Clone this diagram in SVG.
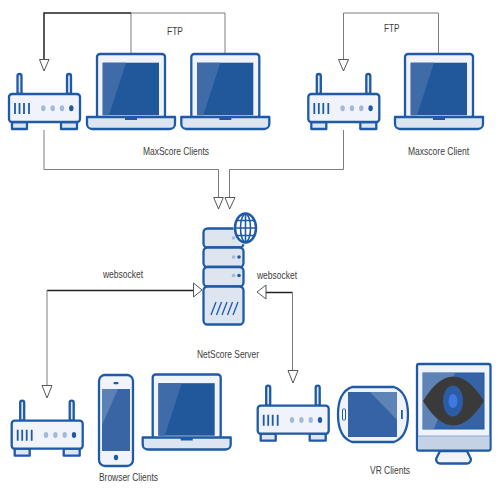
<svg xmlns="http://www.w3.org/2000/svg" width="500" height="500" viewBox="0 0 500 500">
<style>
text{font-family:"Liberation Sans",Arial,sans-serif;font-size:11px;fill:#3c3c3c;text-anchor:start}
.ln{fill:none;stroke:#7d7d7d;stroke-width:1}
.bk{fill:none;stroke:#222;stroke-width:1.500}
.ah{fill:#fff;stroke:#444;stroke-width:.9}
.o{stroke:#1f5aa6;stroke-width:2.300;stroke-linejoin:round}
.pale{fill:#f0f3fa}
.mid{fill:#dde5f1}
.scr{fill:#21579b}
.hi{fill:#3f6ca8}
</style>
<defs>
<g id="router">
<path class="o" d="M8.500 0V-18a2 2 0 0 1 4 0V0ZM58 0V-18a2 2 0 0 1 4 0V0Z" fill="#dde5f1"/>
<rect class="o mid" x="3" y="28" width="15" height="7"/>
<rect class="o mid" x="52" y="28" width="16" height="7"/>
<rect class="o pale" x="0" y="0" width="71" height="28" rx="3"/>
<path d="M6 9V20M10.500 9V20M15 9V20M20 9V20" fill="none" stroke="#1f5aa6" stroke-width="1.800"/>
<g fill="#a3b9da"><ellipse cx="34.300" cy="14.300" rx="2.200" ry="3"/><ellipse cx="43.700" cy="14.300" rx="2.200" ry="3"/><ellipse cx="53" cy="14.300" rx="2.200" ry="3"/></g>
<ellipse cx="62.300" cy="14.300" rx="2.200" ry="3" fill="#1f5aa6"/>
</g>
<g id="laptop">
<rect class="o pale" x="10" y="0" width="68" height="64" rx="3"/>
<rect x="15.700" y="8.700" width="56.300" height="52.500" class="scr"/>
<path class="hi" d="M15.700 8.700H39L22 61.200H15.700Z"/>
<path class="o mid" d="M0 63H88V70a5 5 0 0 1-5 5H5a5 5 0 0 1-5-5Z"/>
<rect x="38" y="63" width="12" height="3" fill="#1f5aa6"/>
</g>
</defs>

<g id="connectors">
<path class="ln" d="M131 13H225V54M131 13V54"/>
<path class="bk" d="M44 59V13H131"/>
<path class="ln" d="M343.500 59V13H438.500V54"/>
<path class="ln" d="M44 130V169.500H218.500V197"/>
<path class="ln" d="M343.500 130V169.500H229.500V197"/>
<path class="bk" d="M193 290.500H47"/>
<path class="ln" d="M47 290V385"/>
<path class="bk" d="M266 292.500H292.500"/>
<path class="ln" d="M292.500 292V370"/>
<path class="ah" d="M39.500 59.500H49L44 71Z"/>
<path class="ah" d="M338.500 59.500H348.500L343.500 71Z"/>
<path class="ah" d="M213.700 197.500H223.300L218.500 209Z"/>
<path class="ah" d="M225 197.500H235L229.700 209Z"/>
<path class="ah" d="M193.500 283V297L202 290Z"/>
<path class="ah" d="M266 285V299L257 292Z"/>
<path class="ah" d="M42 385.500H52L47 398Z"/>
<path class="ah" d="M288 370.500H298L293 383Z"/>
</g>

<g id="router1"><use href="#router" x="9" y="94"/></g>
<g id="laptop1"><use href="#laptop" x="87" y="54"/></g>
<g id="laptop2"><use href="#laptop" x="181.300" y="54"/></g>
<g id="label-ftp1"><text x="167" y="35" textLength="16" lengthAdjust="spacingAndGlyphs">FTP</text></g>
<g id="label-maxscore-clients"><text x="143" y="155" textLength="66" lengthAdjust="spacingAndGlyphs">MaxScore Clients</text></g>

<g id="router2"><use href="#router" x="308.300" y="94"/></g>
<g id="laptop3"><use href="#laptop" x="395" y="54"/></g>
<g id="label-ftp2"><text x="384" y="32" textLength="15.500" lengthAdjust="spacingAndGlyphs">FTP</text></g>
<g id="label-maxscore-client"><text x="408" y="155" textLength="61" lengthAdjust="spacingAndGlyphs">Maxscore Client</text></g>

<g id="server">
<rect class="o" x="203.500" y="228.500" width="40" height="19" rx="4" fill="#dde5f1"/>
<rect class="o" x="203.500" y="247.500" width="40" height="19.500" rx="4" fill="#dde5f1"/>
<rect class="o" x="203.500" y="267" width="40" height="19.500" rx="4" fill="#dde5f1"/>
<rect class="o" x="203.500" y="286.500" width="40" height="38" rx="4" fill="#dde5f1"/>
<circle cx="233.500" cy="238" r="1.800" fill="#a3b9da"/>
<circle cx="233.500" cy="257" r="1.800" fill="#a3b9da"/><circle cx="239" cy="257" r="1.800" fill="#1f5aa6"/>
<circle cx="233.500" cy="275.500" r="1.800" fill="#a3b9da"/><circle cx="239" cy="275.500" r="1.800" fill="#1f5aa6"/>
<path d="M211 315L216 302M216.500 315L221.500 302M222 315L227 302M227.500 315L232.500 302M233 315L238 302" fill="none" stroke="#1f5aa6" stroke-width="1.300"/>
<ellipse cx="245.500" cy="228" rx="12" ry="16.500" fill="#fff"/>
<ellipse cx="245.500" cy="228" rx="10.500" ry="14.500" fill="#fff" stroke="#1f5aa6" stroke-width="2.500"/>
<path d="M245.500 214V242M235 228H256M237 220.500H254M237 235.500H254" fill="none" stroke="#1f5aa6" stroke-width="1.600"/>
<ellipse cx="245.500" cy="228" rx="5" ry="14" fill="none" stroke="#1f5aa6" stroke-width="1.600"/>
</g>
<g id="label-netscore"><text x="197" y="358" textLength="62" lengthAdjust="spacingAndGlyphs">NetScore Server</text></g>
<g id="label-ws1"><text x="103" y="278" textLength="40" lengthAdjust="spacingAndGlyphs">websocket</text></g>
<g id="label-ws2"><text x="257" y="279" textLength="40" lengthAdjust="spacingAndGlyphs">websocket</text></g>

<g id="router3"><use href="#router" x="11.700" y="420.700"/></g>
<g id="phone">
<rect class="o pale" x="99" y="375" width="34" height="91" rx="6"/>
<rect x="102" y="389" width="28" height="62" fill="#3a65a4"/>
<path d="M102 389H118L102 425Z" fill="#5c82b5"/>
<rect x="113.500" y="382" width="5" height="2.200" rx="1" fill="#1f5aa6"/>
<ellipse cx="116" cy="457.500" rx="2.200" ry="2.800" fill="#1f5aa6"/>
</g>
<g id="laptop4"><use href="#laptop" x="142.700" y="374.500"/></g>
<g id="label-browser"><text x="99" y="481" textLength="59" lengthAdjust="spacingAndGlyphs">Browser Clients</text></g>

<g id="router4"><use href="#router" x="257.700" y="405.700"/></g>
<g id="tablet">
<path class="o pale" d="M352 387H394Q408 392 408 414.500Q408 437 394 442H352Q338 437 338 414.500Q338 392 352 387Z"/>
<rect x="348" y="392" width="49" height="45" fill="#3563a6"/>
<path d="M370 392H397V420Z" fill="#5e84b7"/>
<rect x="342.500" y="409" width="3" height="11" rx="1" fill="#fff" stroke="#1f5aa6"/>
<rect x="401" y="410" width="1.800" height="9" fill="#1f5aa6"/>
</g>
<g id="monitor">
<path class="o" d="M440 451L437 457a4 4 0 0 0 3 6.500H467a4 4 0 0 0 3-6.500L467 451Z" fill="#f0f3fa"/>
<rect class="o pale" x="417" y="364" width="73.500" height="86.500" rx="2"/>
<path d="M418.200 436H489.300V449.300H418.200Z" fill="#c4d2e5"/>
<path d="M418 436H489.500" stroke="#8fa8cc" stroke-width="1"/>
<rect x="423" y="373" width="61" height="56" fill="#3563a6" stroke="#1f5aa6"/>
<path d="M423 373H455L434 429H423Z" fill="#5e84b7"/>
<path d="M423 401Q453 352 484 401Q453 450 423 401Z" fill="#3a3a3a"/>
<ellipse cx="453" cy="401" rx="10" ry="15.500" fill="#2a5ca8"/>
<ellipse cx="453" cy="401" rx="4.500" ry="7" fill="#3f78e0"/>
</g>
<g id="label-vr"><text x="370" y="474" textLength="40" lengthAdjust="spacingAndGlyphs">VR Clients</text></g>
</svg>
